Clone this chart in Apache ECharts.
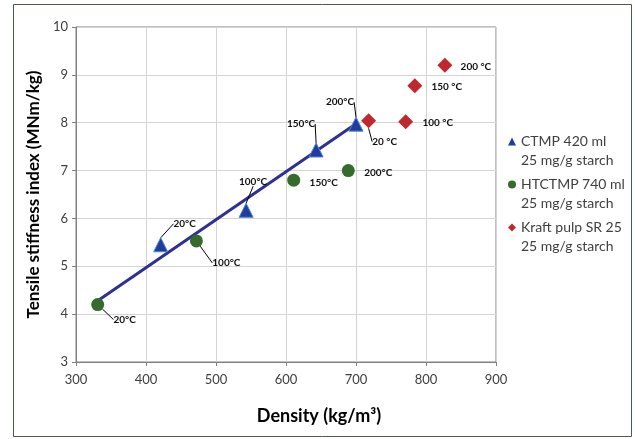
<!DOCTYPE html>
<html>
<head>
<meta charset="utf-8">
<script src="https://cdn.jsdelivr.net/npm/echarts@6/dist/echarts.min.js"></script>
<style>
  html, body { margin: 0; padding: 0; background: #fff; }
  #chart { width: 635px; height: 439px; }
</style>
</head>
<body>
<div id="chart"></div>
<script>
// data
const ctmp = [[421, 5.45], [543, 6.17], [643, 7.43], [700, 7.97]]
const htctmp = [[331, 4.2], [472, 5.53], [611, 6.8], [689, 7.0]]
const kraft = [[718, 8.04], [771, 8.02], [784, 8.77], [827, 9.2]]
const trendLine = [[330, 4.27], [700, 7.98]]

const ctmpLabels = ['20°C', '100°C', '150°C', '200°C']
const htctmpLabels = ['20°C', '100°C', '150°C', '200°C']
const kraftLabels = ['20 °C', '100 °C', '150 °C', '200 °C']

const seriesNames = ['CTMP 420 ml\n25 mg/g starch', 'HTCTMP 740 ml\n25 mg/g starch', 'Kraft pulp SR 25\n25 mg/g starch']
const legendIcons = ['triangle', 'circle', 'diamond']

// label offsets from the marker (px) and whether a leader line is drawn
const labelOffsets = [
  [[24, -21, 1], [7, -29, 1], [-15, -26, 1], [-16, -22, 1]],
  [[27, 15, 1], [30, 22, 1], [30, 3, 0], [30, 2, 0]],
  [[16, 21, 1], [32, 1, 0], [32, 1, 0], [31, 1, 0]]
]

const font = 'Lato, "Open Sans", sans-serif'
const chart = echarts.init(document.getElementById('chart'))

const pointSeries = (name, data, labels, idx, symbol, size, color, border) => ({
  name,
  type: 'scatter',
  symbol,
  symbolSize: size,
  itemStyle: { color, borderColor: border, borderWidth: border ? 1 : 0, opacity: 1 },
  data: data.map((d, i) => ({
    value: d,
    labelLine: { show: !!labelOffsets[idx][i][2], lineStyle: { color: '#000', width: 1 } }
  })),
  label: {
    show: true,
    position: 'inside',
    formatter: p => labels[p.dataIndex],
    color: '#111',
    fontFamily: font,
    fontWeight: 'bold',
    fontSize: 10
  },
  labelLayout: p => ({ dx: labelOffsets[idx][p.dataIndex][0], dy: labelOffsets[idx][p.dataIndex][1] }),
  z: 3
})

const option = {
  animation: false,
  graphic: [{
    type: 'rect',
    shape: { x: 13.5, y: 4.5, width: 618, height: 432 },
    style: { fill: 'none', stroke: '#4b5a4b', lineWidth: 1 },
    silent: true
  }],
  grid: {
    left: 76, right: 139, top: 27, bottom: 77,
    show: true, borderColor: '#808080', borderWidth: 1
  },
  legend: {
    data: seriesNames.map((n, i) => ({ name: n, icon: legendIcons[i] })),
    orient: 'vertical',
    left: 508,
    top: 113,
    padding: 0,
    itemWidth: 8,
    itemHeight: 8,
    itemGap: -14,
    itemStyle: { borderWidth: 0 },
    formatter: name => '\n' + name,
    textStyle: { fontFamily: font, fontSize: 14, color: '#404040', lineHeight: 19 }
  },
  xAxis: {
    type: 'value',
    min: 300, max: 900, interval: 100,
    name: 'Density (kg/m³)',
    nameLocation: 'middle',
    nameGap: 45,
    nameTextStyle: { fontFamily: font, fontSize: 18, fontWeight: 'bold', color: '#000', padding: [0, 0, 0, 66] },
    axisLine: { show: true, lineStyle: { color: '#808080' } },
    axisTick: { show: true, length: 4, lineStyle: { color: '#808080' } },
    axisLabel: { fontFamily: font, fontSize: 13, color: '#404040', margin: 11 },
    splitLine: { lineStyle: { color: '#d4d4d4' } }
  },
  yAxis: {
    type: 'value',
    min: 3, max: 10, interval: 1,
    name: 'Tensile stiffness index (MNm/kg)',
    nameLocation: 'middle',
    nameGap: 32,
    nameTextStyle: { fontFamily: font, fontSize: 17, fontWeight: 'bold', color: '#000' },
    axisLine: { show: true, lineStyle: { color: '#808080' } },
    axisTick: { show: true, length: 4, lineStyle: { color: '#808080' } },
    axisLabel: { fontFamily: font, fontSize: 13, color: '#404040', margin: 8 },
    splitLine: { lineStyle: { color: '#d4d4d4' } }
  },
  series: [
    {
      type: 'line',
      data: trendLine,
      symbol: 'none',
      lineStyle: { color: '#2e3192', width: 3 },
      z: 2,
      silent: true
    },
    pointSeries(seriesNames[0], ctmp, ctmpLabels, 0, 'triangle', 14, '#1f3c9e', '#4a86cf'),
    pointSeries(seriesNames[1], htctmp, htctmpLabels, 1, 'circle', 13, '#356b2c', null),
    pointSeries(seriesNames[2], kraft, kraftLabels, 2, 'diamond', 15, '#c0282d', null)
  ]
}

chart.setOption(option)
</script>
</body>
</html>
